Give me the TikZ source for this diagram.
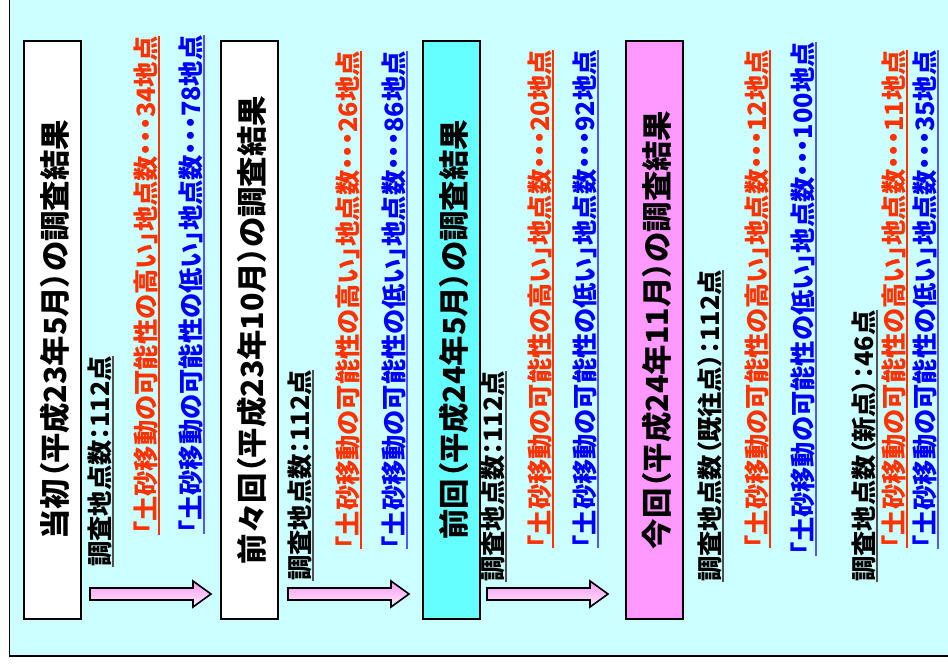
\documentclass[tikz,border=0pt]{standalone}
\usepackage{fontspec}
\setmainfont{Noto Sans CJK JP}[RawFeature=+palt]
\definecolor{bgcyan}{HTML}{CCFFFF}
\definecolor{boxcyan}{HTML}{66FFFF}
\definecolor{boxpink}{HTML}{FF99FF}
\definecolor{txtred}{HTML}{FF3300}
\definecolor{txtblue}{HTML}{0000FF}
\definecolor{ulblue}{HTML}{5555FF}
\definecolor{ulgrey}{HTML}{505050}
\definecolor{arrtop}{HTML}{F79AF0}
\definecolor{arrbot}{HTML}{FFE8FF}
\tikzset{
  resbox/.style={draw=black, line width=2pt, minimum width=57pt, minimum height=578pt, inner sep=0pt},
  ttl/.style={rotate=90, anchor=base, inner sep=0pt, font=\bfseries\fontsize{30.4}{32}\selectfont},
  bodytxt/.style={rotate=90, inner sep=0pt, font=\bfseries\fontsize{25.3}{27}\selectfont},
  blacktxt/.style={bodytxt, anchor=base west, text=black},
  redtxt/.style={bodytxt, anchor=base, text=txtred},
  bluetxt/.style={bodytxt, anchor=base, text=txtblue},
  ulblack/.style={draw=ulgrey, line width=1.8pt},
  ulred/.style={draw=txtred, line width=1.8pt},
  ulbl/.style={draw=ulblue, line width=1.8pt},
  blockarr/.style={draw=black, line width=1.6pt, top color=arrtop, bottom color=arrbot},
}
\newcommand{\ulnode}[2]{\draw[#2] ([xshift=3.5pt]#1.base west) -- ([xshift=3.5pt]#1.base east);}
\newcommand{\blockarrow}[2]{%
  \path[blockarr] (#1,588) -- ({#2-18},588) -- ({#2-18},581) -- (#2,594) -- ({#2-18},607) -- ({#2-18},600) -- (#1,600) -- cycle;}
\begin{document}
\begin{tikzpicture}[x=1pt, y=-1pt]
\useasboundingbox (0,0) rectangle (948,666);
\fill[white] (0,0) rectangle (948,666);
\draw[fill=bgcyan, line width=1.8pt] (9.5,-20) -- (9.5,656) -- (970,656) -- (970,-20) -- cycle;

% boxes
\node[resbox, fill=white]   (b1) at (52.5,330) {};
\node[resbox, fill=white]   (b2) at (249.5,330) {};
\node[resbox, fill=boxcyan] (b3) at (451.5,330) {};
\node[resbox, fill=boxpink] (b4) at (654.3,330) {};

% titles
\node[ttl] (t1) at (66,330) {当初（平成23年5月）の調査結果};
\node[ttl] (t2) at (263,330) {前々回（平成23年10月）の調査結果};
\node[ttl] (t3) at (465,330) {前回（平成24年5月）の調査結果};
\node[ttl] (t4) at (668,330) {今回（平成24年11月）の調査結果};

% arrows
\blockarrow{90}{211}
\blockarrow{288}{409}
\blockarrow{487}{608}

% column 1
\node[blacktxt] (n1) at (109.5,567) {調査地点数：112点};
\node[redtxt]   (r1) at (155.5,285.5) {「土砂移動の可能性の高い」地点数・・・34地点};
\node[bluetxt]  (u1) at (200.5,284.5) {「土砂移動の可能性の低い」地点数・・・78地点};
\ulnode{n1}{ulblack} \ulnode{r1}{ulred} \ulnode{u1}{ulbl}

% column 2
\node[blacktxt] (n2) at (309.5,581) {調査地点数：112点};
\node[redtxt]   (r2) at (357.5,300) {「土砂移動の可能性の高い」地点数・・・26地点};
\node[bluetxt]  (u2) at (403.5,300) {「土砂移動の可能性の低い」地点数・・・86地点};
\ulnode{n2}{ulblack} \ulnode{r2}{ulred} \ulnode{u2}{ulbl}

% column 3
\node[blacktxt] (n3) at (502.5,582) {調査地点数：112点};
\node[redtxt]   (r3) at (549.5,299) {「土砂移動の可能性の高い」地点数・・・20地点};
\node[bluetxt]  (u3) at (594.5,299) {「土砂移動の可能性の低い」地点数・・・92地点};
\ulnode{n3}{ulblack} \ulnode{r3}{ulred} \ulnode{u3}{ulbl}

% column 4
\node[blacktxt] (n4) at (719.5,582) {調査地点数（既往点）：112点};
\node[redtxt]   (r4) at (766.5,299) {「土砂移動の可能性の高い」地点数・・・12地点};
\node[bluetxt]  (u4) at (812.5,299) {「土砂移動の可能性の低い」地点数・・・100地点};
\ulnode{n4}{ulblack} \ulnode{r4}{ulred} \ulnode{u4}{ulbl}

\node[blacktxt] (n5) at (873.5,582) {調査地点数（新点）：46点};
\node[redtxt]   (r5) at (903.5,299) {「土砂移動の可能性の高い」地点数・・・11地点};
\node[bluetxt]  (u5) at (934.5,299.5) {「土砂移動の可能性の低い」地点数・・・35地点};
\ulnode{n5}{ulblack} \ulnode{r5}{ulred} \ulnode{u5}{ulbl}
\end{tikzpicture}
\end{document}
